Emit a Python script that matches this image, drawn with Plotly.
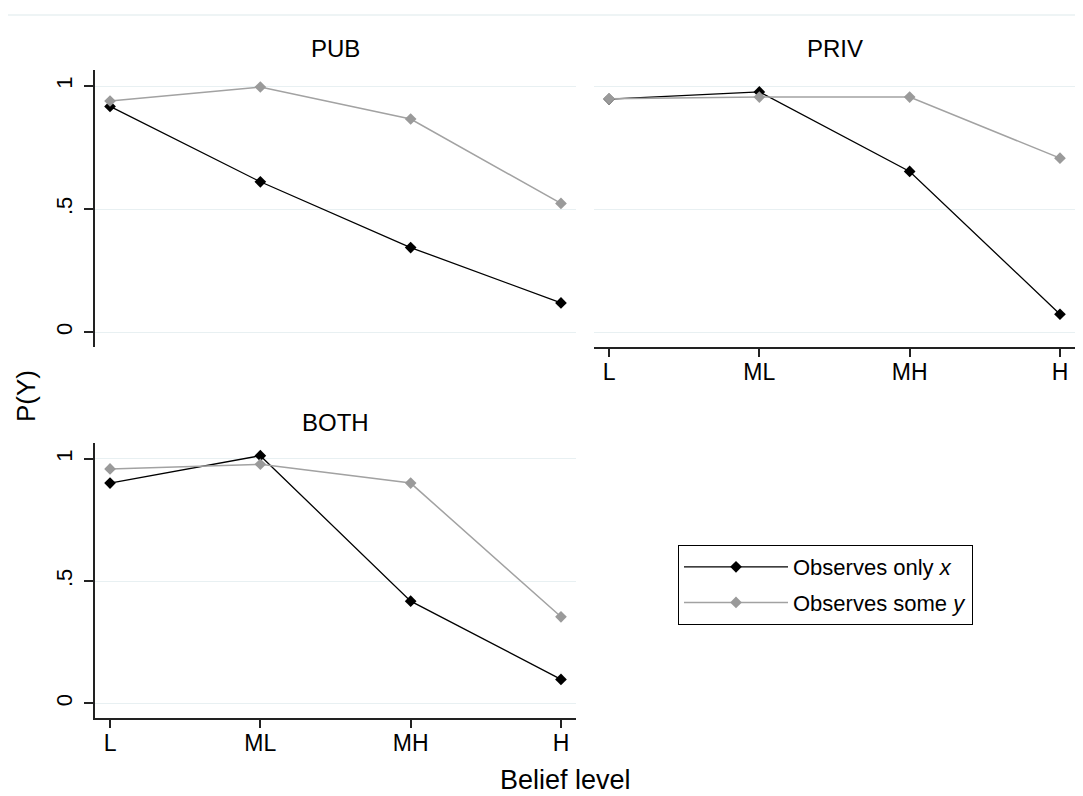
import plotly.graph_objects as go

categories = ["L", "ML", "MH", "H"]
panels = ["PUB", "PRIV", "BOTH"]
only_x = {
    "PUB": [0.917, 0.611, 0.344, 0.119],
    "PRIV": [0.947, 0.976, 0.653, 0.073],
    "BOTH": [0.901, 1.013, 0.418, 0.098],
}
some_y = {
    "PUB": [0.939, 0.996, 0.866, 0.523],
    "PRIV": [0.948, 0.955, 0.955, 0.707],
    "BOTH": [0.959, 0.978, 0.901, 0.354],
}
y_tickvals = [0, 0.5, 1]
y_ticktext = ["0", ".5", "1"]
series_names = ["Observes only <i>x</i>", "Observes some <i>y</i>"]

# the page body has an 8px margin; the figure is sized so that it fills the window
OFF = 8
W, H = 1075, 788
FONT = "Liberation Sans, Arial, sans-serif"
BLACK = "#000000"
GRAY = "#a2a2a2"
GRID = "#e8f0f2"
AXIS = "#222222"

def px_x(p):
    return (p - OFF) / W

def px_y(p):
    return 1 - (p - OFF) / H

# panel geometry in window pixels: (left, right, top, bottom)
geom = {
    "PUB": (95, 576, 70, 347),
    "PRIV": (594, 1075, 70, 347),
    "BOTH": (95, 576, 443, 718),
}
axis_ids = {"PUB": "", "PRIV": "2", "BOTH": "3"}

fig = go.Figure()

for i, p in enumerate(panels):
    ax = axis_ids[p]
    fig.add_trace(go.Scatter(
        x=categories, y=only_x[p], mode="lines+markers",
        line=dict(color=BLACK, width=1.3),
        marker=dict(symbol="diamond", size=9, color=BLACK),
        name=series_names[0], legendgroup="a", showlegend=(i == 0),
        xaxis="x" + ax, yaxis="y" + ax,
    ))
for i, p in enumerate(panels):
    ax = axis_ids[p]
    fig.add_trace(go.Scatter(
        x=categories, y=some_y[p], mode="lines+markers",
        line=dict(color=GRAY, width=1.5),
        marker=dict(symbol="diamond", size=9, color="#9a9a9a"),
        name=series_names[1], legendgroup="b", showlegend=(i == 0),
        xaxis="x" + ax, yaxis="y" + ax,
    ))

layout = dict(
    width=W, height=H,
    margin=dict(l=0, r=0, t=0, b=0),
    paper_bgcolor="white", plot_bgcolor="white",
    font=dict(family=FONT, size=22, color="#000000"),
    showlegend=True,
    legend=dict(
        x=px_x(678), y=px_y(545), xanchor="left", yanchor="top",
        bordercolor="#000000", borderwidth=1, bgcolor="white",
        font=dict(family=FONT, size=22, color="#000000"),
        itemwidth=104, traceorder="grouped", tracegroupgap=4,
        entrywidth=300, entrywidthmode="pixels",
    ),
)

for p in panels:
    ax = axis_ids[p]
    l, r, t, b = geom[p]
    show_x = p in ("PRIV", "BOTH")
    show_y = p in ("PUB", "BOTH")
    layout["xaxis" + ax] = dict(
        domain=[px_x(l), px_x(r)], anchor="y" + ax,
        type="category", categoryorder="array", categoryarray=categories,
        range=[-0.1, 3.1], showgrid=False, zeroline=False,
        showline=show_x, linecolor=AXIS, linewidth=1.5,
        ticks="outside" if show_x else "", ticklen=8, tickwidth=1.5, tickcolor=AXIS,
        showticklabels=show_x, tickfont=dict(family=FONT, size=23),
        ticklabelstandoff=-4,
    )
    layout["yaxis" + ax] = dict(
        domain=[px_y(b), px_y(t)], anchor="x" + ax,
        range=[-0.06, 1.065], showgrid=True, gridcolor=GRID, gridwidth=1,
        zeroline=False,
        tickmode="array", tickvals=y_tickvals, ticktext=y_ticktext,
        showline=show_y, linecolor=AXIS, linewidth=1.5,
        ticks="outside" if show_y else "", ticklen=9, tickwidth=1.5, tickcolor=AXIS,
        showticklabels=show_y, tickangle=-90, tickfont=dict(family=FONT, size=22),
        ticklabelstandoff=3,
    )

fig.update_layout(**layout)

annotations = [
    dict(text="PUB", x=px_x(335.5), y=px_y(48), size=24),
    dict(text="PRIV", x=px_x(834.5), y=px_y(48), size=24),
    dict(text="BOTH", x=px_x(335.5), y=px_y(422), size=24),
    dict(text="Belief level", x=px_x(565), y=px_y(780), size=27),
]
for a in annotations:
    fig.add_annotation(text=a["text"], x=a["x"], y=a["y"], xref="paper", yref="paper",
                       xanchor="center", yanchor="middle", showarrow=False,
                       font=dict(family=FONT, size=a["size"], color="#000000"))
fig.add_annotation(text="P(Y)", x=px_x(26), y=px_y(396), xref="paper", yref="paper",
                   xanchor="center", yanchor="middle", showarrow=False, textangle=-90,
                   font=dict(family=FONT, size=26, color="#000000"))

fig.add_shape(type="line", xref="paper", yref="paper",
              x0=0, x1=1, y0=px_y(15), y1=px_y(15),
              line=dict(color=GRID, width=1.5))

fig.write_html("out.html")
